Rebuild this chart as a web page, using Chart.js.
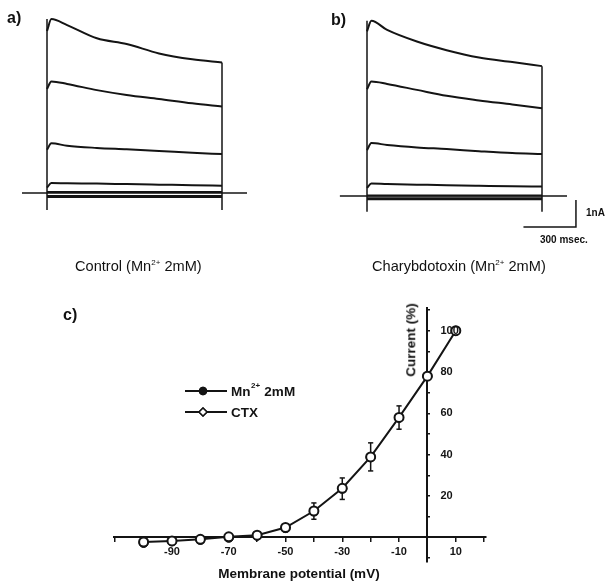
<!DOCTYPE html>
<html>
<head>
<meta charset="utf-8">
<script src="https://cdn.jsdelivr.net/npm/chart.js@4/dist/chart.umd.min.js"></script>
<style>
  html, body { margin:0; padding:0; background:#fff; }
  #wrap { position:relative; width:606px; height:585px; overflow:hidden; background:#fff;
          font-family:"Liberation Sans", Arial, sans-serif; color:#111; }
  canvas { position:absolute; left:0; top:0; }
  .t { position:absolute; white-space:nowrap; line-height:1; transform:translateY(-50%); }
  .lab { font-weight:bold; font-size:16px; }
  .cap { font-size:14.6px; }
  .ttl { font-size:13.5px; font-weight:bold; }
  .small { font-weight:bold; font-size:10px; }
  sup { font-size:8px; vertical-align:6px; line-height:0; }
</style>
</head>
<body>
<div id="wrap">
  <canvas id="ca" width="606" height="585"></canvas>
  <canvas id="cb" width="606" height="585"></canvas>
  <canvas id="cc" width="606" height="585"></canvas>

  <div class="t lab" style="left:7px; top:18px;">a)</div>
  <div class="t lab" style="left:331px; top:20px;">b)</div>
  <div class="t lab" style="left:63px; top:315px;">c)</div>

  <div class="t cap" style="left:75px; top:266px;">Control (Mn<sup>2+</sup> 2mM)</div>
  <div class="t cap" style="left:372px; top:266px;">Charybdotoxin (Mn<sup>2+</sup> 2mM)</div>

  <div class="t small" style="left:586px; top:213px;">1nA</div>
  <div class="t small" style="left:540px; top:240px;">300 msec.</div>

  <div class="t ttl" style="left:299px; top:574px; transform:translate(-50%,-50%);">Membrane potential (mV)</div>
  <div class="t ttl" style="left:411px; top:340px; transform:translate(-50%,-50%) rotate(-90deg);">Current (%)</div>
</div>

<script>
// ---------- Panel a / b : current traces (nA vs ms) ----------
const pulseTimes = [0, 25, 115, 285, 455, 640, 830, 1000];

const controlTraces = [
  [6.00, 6.44, 6.22, 5.73, 5.52, 5.17, 4.95, 4.83],
  [3.85, 4.13, 4.04, 3.81, 3.63, 3.48, 3.32, 3.20],
  [1.60, 1.84, 1.75, 1.67, 1.62, 1.56, 1.49, 1.44],
  [0.20, 0.37, 0.36, 0.35, 0.33, 0.31, 0.29, 0.27],
  [0.04, 0.04, 0.04, 0.04, 0.04, 0.04, 0.04, 0.04],
  [-0.13, -0.13, -0.13, -0.13, -0.13, -0.13, -0.13, -0.13]
];
const ctxTraces = [
  [6.10, 6.49, 6.15, 5.72, 5.40, 5.13, 4.96, 4.81],
  [3.95, 4.24, 4.15, 3.93, 3.71, 3.54, 3.39, 3.25],
  [1.70, 1.96, 1.89, 1.80, 1.74, 1.66, 1.59, 1.56],
  [0.30, 0.46, 0.44, 0.42, 0.40, 0.38, 0.36, 0.35],
  [0.02, 0.02, 0.02, 0.02, 0.02, 0.02, 0.02, 0.02],
  [-0.10, -0.10, -0.10, -0.10, -0.10, -0.10, -0.10, -0.10]
];
const controlHolding = [-143, 1143];
const ctxHolding = [-155, 1143];
const controlEdgeTop = [6.44, 4.83];
const ctxEdgeTop = [6.49, 4.81];
const controlEdgeBottom = -0.63;
const ctxEdgeBottom = -0.58;
const scaleBarTime = [894, 1194];      // 300 ms
const scaleBarCurrent = [-0.15, -1.15]; // 1 nA

// ---------- Panel c : I-V relation ----------
const voltages   = [-100, -90, -80, -70, -60, -50, -40, -30, -20, -10, 0, 10];
const mnCurrent  = [-2.8, -2.0, -1.3, -0.3, 0.7, 4.4, 12.5, 23.5, 38.7, 57.8, 78, 100];
const ctxCurrent = [-2.3, -1.8, -1.0, 0.2, 1.0, 4.7, 12.7, 23.7, 38.9, 58.0, 78, 100];
const errVoltages = [-40, -30, -20, -10];
const errLow  = [8.7, 18.3, 32.1, 52.3];
const errHigh = [16.6, 28.7, 45.7, 63.6];
const xTickValues = [-110, -100, -90, -80, -70, -60, -50, -40, -30, -20, -10, 10, 20];
const xLabelValues = [-90, -70, -50, -30, -10, 10];
const yTickValues = [-10, 10, 20, 30, 40, 50, 60, 70, 80, 90, 100, 110];
const yLabelValues = [20, 40, 60, 80, 100];
const legendLabels = ['Mn', 'CTX'];

Chart.defaults.font.family = '"Liberation Sans", Arial, sans-serif';
Chart.defaults.color = '#111';

const INK = '#141414';

function traceChart(id, pad, xr, yr, traces, hold, edgeTop, edgeBottom, withBar) {
  const ds = [];
  ds.push({ data: [{x: hold[0], y: 0}, {x: hold[1], y: 0}], borderWidth: 1.6 });
  traces.forEach((vals, k) => {
    ds.push({ data: pulseTimes.map((t, i) => ({x: t, y: vals[i]})),
              borderWidth: k === traces.length - 1 ? 3 : 2,
              cubicInterpolationMode: 'monotone' });
  });
  ds.push({ data: [{x: 0, y: edgeTop[0]}, {x: 0, y: edgeBottom}], borderWidth: 1.5 });
  ds.push({ data: [{x: 1000, y: edgeTop[1]}, {x: 1000, y: edgeBottom}], borderWidth: 1.5 });
  if (withBar) {
    ds.push({ data: [{x: scaleBarTime[1], y: scaleBarCurrent[0]},
                     {x: scaleBarTime[1], y: scaleBarCurrent[1]},
                     {x: scaleBarTime[0], y: scaleBarCurrent[1]}], borderWidth: 1.5 });
  }
  ds.forEach(d => { d.showLine = true; d.pointRadius = 0; d.borderColor = INK; d.clip = false; d.tension = 0; });
  new Chart(document.getElementById(id), {
    type: 'scatter',
    data: { datasets: ds },
    options: {
      responsive: false, animation: false, events: [],
      layout: { padding: pad },
      plugins: { legend: { display: false }, tooltip: { enabled: false } },
      scales: {
        x: { type: 'linear', display: false, min: xr[0], max: xr[1] },
        y: { type: 'linear', display: false, min: yr[0], max: yr[1] }
      }
    }
  });
}

// a: x [-200,1200] -> 245px from left 12 ; y [-1,6.8] -> 210.6px from top 9.4
traceChart('ca', {left: 12, right: 606 - 257, top: 9.4, bottom: 585 - 220}, [-200, 1200], [-1, 6.8],
           controlTraces, controlHolding, controlEdgeTop, controlEdgeBottom, false);
// b: x [-200,1300] -> 262.5px from left 332 ; y [-1.3,6.8] -> 218.7px from top 12.4
traceChart('cb', {left: 332, right: 606 - 594.5, top: 12.4, bottom: 585 - 231.1}, [-200, 1300], [-1.3, 6.8],
           ctxTraces, ctxHolding, ctxEdgeTop, ctxEdgeBottom, true);

// ---- panel c ----
const errData = [];
errVoltages.forEach((v, i) => {
  errData.push({x: v, y: errLow[i]}, {x: v, y: errHigh[i]}, {x: v, y: null});
});

const ivPlugin = {
  id: 'ivExtras',
  afterDraw(chart) {
    const c = chart.ctx, ys = chart.scales.y, xs = chart.scales.x;
    c.save();
    // y tick labels on the right side of the axis
    const ax = xs.getPixelForValue(0);
    c.font = 'bold 11px "Liberation Sans", Arial, sans-serif';
    c.fillStyle = INK; c.textAlign = 'left'; c.textBaseline = 'middle';
    yLabelValues.forEach(v => c.fillText(String(v), ax + 13, ys.getPixelForValue(v)));
    // legend
    const rows = [
      {y: 391, style: 'circle', r: 3.5, fill: INK},
      {y: 412, style: 'rectRot', r: 4, fill: '#fff'}
    ];
    rows.forEach(row => {
      c.strokeStyle = INK; c.lineWidth = 2;
      c.beginPath(); c.moveTo(185, row.y); c.lineTo(227, row.y); c.stroke();
      c.fillStyle = row.fill; c.lineWidth = 1.5;
      Chart.helpers.drawPoint(c, {pointStyle: row.style, radius: row.r, borderWidth: 1.5}, 203, row.y);
      c.fill(); c.stroke();
    });
    c.fillStyle = INK; c.textAlign = 'left'; c.textBaseline = 'middle';
    const big = 'bold 13.5px "Liberation Sans", Arial, sans-serif';
    c.font = big;
    let x = 231;
    c.fillText(legendLabels[0], x, 392); x += c.measureText(legendLabels[0]).width;
    c.font = 'bold 8px "Liberation Sans", Arial, sans-serif';
    c.fillText('2+', x + 0.5, 386); x += c.measureText('2+').width + 1;
    c.font = big;
    c.fillText(' 2mM', x, 392);
    c.fillText(legendLabels[1], 231, 413);
    c.restore();
  }
};

new Chart(document.getElementById('cc'), {
  type: 'scatter',
  data: {
    datasets: [
      { label: 'CTX', data: voltages.map((v, i) => ({x: v, y: ctxCurrent[i]})),
        showLine: true, tension: 0, borderColor: INK, borderWidth: 2,
        pointStyle: 'circle', pointRadius: 4.5, pointBorderWidth: 2,
        pointBackgroundColor: '#fff', pointBorderColor: INK, order: 0, clip: false },
      { label: 'Mn2+ 2mM', data: voltages.map((v, i) => ({x: v, y: mnCurrent[i]})),
        showLine: false, borderColor: INK, pointStyle: 'circle', pointRadius: 4.5,
        pointBackgroundColor: INK, pointBorderColor: INK, pointBorderWidth: 1, order: 1, clip: false },
      { label: 'err', data: errData, showLine: true, spanGaps: false, borderColor: INK, borderWidth: 1.5,
        pointStyle: 'line', pointRadius: 2.6, pointBorderWidth: 1.5, pointBorderColor: INK, order: 2, clip: false }
    ]
  },
  options: {
    responsive: false, animation: false, events: [],
    layout: { padding: { left: 113.8, right: 606 - 485.6, top: 308, bottom: 585 - 562 } },
    plugins: { legend: { display: false }, tooltip: { enabled: false } },
    scales: {
      x: {
        type: 'linear', position: { y: 0 }, min: -110.5, max: 20.5, bounds: 'data',
        afterBuildTicks: s => { s.ticks = xTickValues.map(v => ({value: v})); },
        border: { display: true, color: INK, width: 2 },
        grid: { drawOnChartArea: false, drawTicks: true, tickLength: 4, color: INK, lineWidth: 1.5 },
        ticks: { autoSkip: false, maxRotation: 0, padding: 4, color: INK,
                 font: { size: 11, weight: 'bold' },
                 callback: v => xLabelValues.includes(v) ? String(v) : '' }
      },
      y: {
        type: 'linear', position: { x: 0 }, min: -12, max: 111, bounds: 'data',
        afterBuildTicks: s => { s.ticks = yTickValues.map(v => ({value: v})); },
        border: { display: true, color: INK, width: 2 },
        grid: { drawOnChartArea: false, drawTicks: true, tickLength: -4, color: INK, lineWidth: 1.5 },
        ticks: { display: false }
      }
    }
  },
  plugins: [ivPlugin]
});
</script>
</body>
</html>
